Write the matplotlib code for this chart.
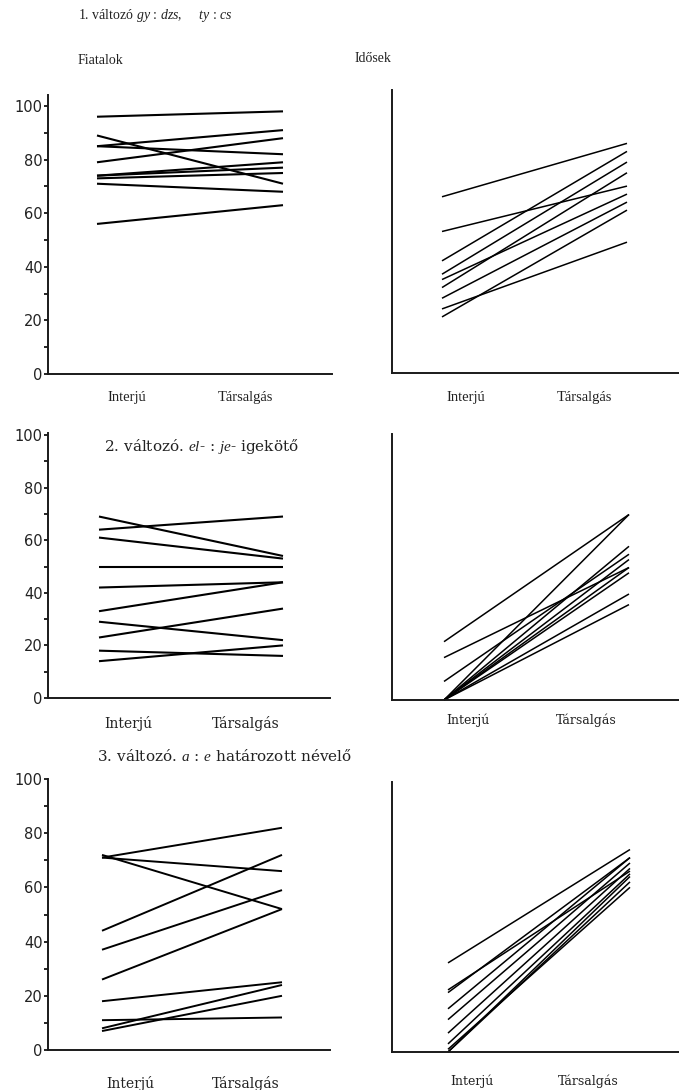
import matplotlib
matplotlib.use('Agg')
import matplotlib.pyplot as plt
from matplotlib.ticker import MultipleLocator

plt.rcParams['font.family'] = ['Liberation Serif', 'DejaVu Serif']
plt.rcParams['mathtext.fontset'] = 'custom'
plt.rcParams['mathtext.rm'] = 'Liberation Serif'
plt.rcParams['mathtext.it'] = 'Liberation Serif:italic'

W, H = 679, 1090

conditions = ['Interjú', 'Társalgás']

# percentages: (Interjú, Társalgás) per speaker
v1_young_interju = [96, 89, 85, 85, 79, 74, 74, 73, 71, 56]
v1_young_tarsalgas = [98, 71, 91, 82, 88, 79, 77, 75, 68, 63]
v1_old_interju = [66, 53, 42, 37, 35, 32, 28, 24, 21]
v1_old_tarsalgas = [86, 70, 83, 79, 67, 75, 64, 49, 61]

v2_young_interju = [69, 64, 61, 50, 42, 33, 29, 23, 18, 14]
v2_young_tarsalgas = [54, 69, 53, 50, 44, 44, 22, 34, 16, 20]
v2_old_interju = [22, 16, 7, 0, 0, 0, 0, 0, 0, 0]
v2_old_tarsalgas = [70, 50, 55, 70, 58, 53, 48, 40, 36, 50]

v3_young_interju = [71, 71, 72, 44, 37, 26, 18, 11, 8, 7]
v3_young_tarsalgas = [82, 66, 52, 72, 59, 52, 25, 12, 24, 20]
v3_old_interju = [33, 23, 22, 16, 12, 7, 3, 0, 0, 1]
v3_old_tarsalgas = [75, 67, 72, 72, 70, 68, 66, 65, 63, 61]

panels = [
    (v1_young_interju, v1_young_tarsalgas),
    (v1_old_interju, v1_old_tarsalgas),
    (v2_young_interju, v2_young_tarsalgas),
    (v2_old_interju, v2_old_tarsalgas),
    (v3_young_interju, v3_young_tarsalgas),
    (v3_old_interju, v3_old_tarsalgas),
]

# pixel layout: left, top, right, bottom, x of Interjú, x of Társalgás,
# y of 0, y of 100, label pad, label positions, linewidth, has y labels, label font
layout = [
    (48, 95, 332, 374, 97, 283, 374, 106, 12, (0.16, 0.80), 1.5, True, ('Liberation Serif', 10.5)),
    (392, 90, 679, 373, 442, 627, 373, 106, 13, (0.13, 0.77), 1.1, False, ('Liberation Serif', 10.5)),
    (48, 433, 330, 698, 99, 283, 698, 435, 13, (0.16, 0.80), 1.5, True, ('DejaVu Serif', 10)),
    (392, 434, 679, 700, 444, 629, 700, 435, 10, (0.13, 0.77), 1.1, False, ('DejaVu Serif', 9)),
    (48, 779, 330, 1050, 102, 282, 1050, 779, 19, (0.16, 0.80), 1.4, True, ('DejaVu Serif', 10)),
    (392, 782, 679, 1052, 448, 630, 1052, 782, 16, (0.13, 0.77), 1.1, False, ('DejaVu Serif', 9)),
]

fig = plt.figure(figsize=(W / 100, H / 100), dpi=100)

for (a, b), (l, t, r, bt, x0, x1, y0, y100, pad, lab_x, lw, ylab, xfont) in zip(panels, layout):
    ax = fig.add_axes([l / W, 1 - bt / H, (r - l) / W, (bt - t) / H])
    dx = x1 - x0
    ax.set_xlim((l - x0) / dx, (r - x0) / dx)
    ax.set_ylim(0, (y0 - t) / (y0 - y100) * 100)
    for p, q in zip(a, b):
        ax.plot([0, 1], [p, q], color='black', lw=lw, solid_capstyle='butt', clip_on=False)
    for s in ['top', 'right']:
        ax.spines[s].set_visible(False)
    for s in ['left', 'bottom']:
        ax.spines[s].set_linewidth(1.4)
        ax.spines[s].set_color('#1a1a1a')
    ax.set_xticks(lab_x)
    ax.set_xticklabels(conditions, family=xfont[0], fontsize=xfont[1], color='#222222')
    ax.tick_params(axis='x', length=0, pad=pad)
    if ylab:
        ax.yaxis.set_major_locator(MultipleLocator(20))
        ax.yaxis.set_minor_locator(MultipleLocator(10))
        ax.tick_params(axis='y', which='both', length=3, width=1.2, pad=1,
                       labelsize=10.5, labelcolor='#222222', direction='out')
        for lab in ax.get_yticklabels():
            lab.set_family('DejaVu Sans')
    else:
        ax.set_yticks([])

fig.text(78 / W, 1 - 16 / H, '1. változó $gy$ : $dzs$,     $ty$ : $cs$', fontsize=10,
         va='center', color='#222222')
fig.text(78 / W, 1 - 60 / H, 'Fiatalok', fontsize=10, va='center', color='#222222')
fig.text(355 / W, 1 - 58 / H, 'Idősek', fontsize=10, va='center', color='#222222')
fig.text(104 / W, 1 - 447 / H, '2. változó. $el$- : $je$- igekötő', family='DejaVu Serif',
         fontsize=11, va='center', color='#222222')
fig.text(97 / W, 1 - 756 / H, '3. változó. $a$ : $e$ határozott névelő', family='DejaVu Serif',
         fontsize=11, va='center', color='#222222')

fig.savefig('out.png', dpi=100)
